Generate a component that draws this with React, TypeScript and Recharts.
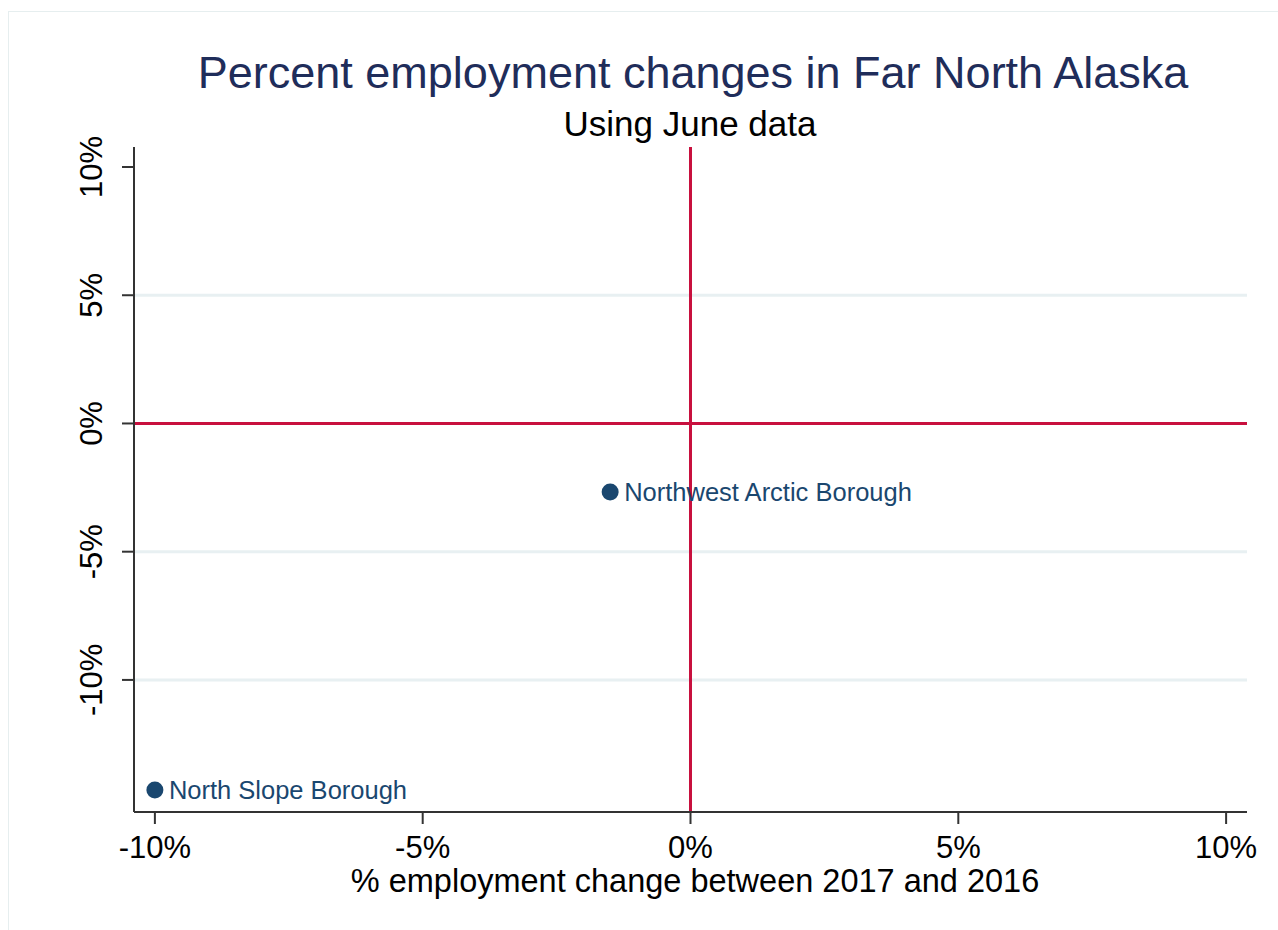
import React from 'react';
import { ScatterChart, Scatter, XAxis, YAxis, ReferenceLine } from 'recharts';

const regions = ['Northwest Arctic Borough', 'North Slope Borough'];
const changeX = [-1.5, -10.0];
const changeY = [-2.67, -14.29];
const xTicks = [-10, -5, 0, 5, 10];
const yTicks = [-10, -5, 0, 5, 10];
const gridValues = [5, -5, -10];

const FONT = '"Liberation Sans", Arial, Helvetica, sans-serif';
const NAVY = '#1a476f';
const RED = '#c8103e';
const AXIS = '#333333';

const points = regions.map((name, i) => ({ name, x: changeX[i], y: changeY[i] }));

const pct = (v: number) => `${v}%`;

// rotated y tick labels, like the stata output
const YTick = (props: any) => {
  const { x, y, payload } = props;
  return (
    <text
      x={x}
      y={y}
      transform={`rotate(-90, ${x}, ${y})`}
      textAnchor="middle"
      fontSize={31}
      fontFamily={FONT}
      fill="#000"
    >
      {pct(payload.value)}
    </text>
  );
};

const Dot = (props: any) => {
  const { cx, cy, payload } = props;
  return (
    <g>
      <circle cx={cx} cy={cy} r={8.5} fill={NAVY} />
      <text x={cx + 14} y={cy + 9} fontSize={25.5} fontFamily={FONT} fill={NAVY}>
        {payload.name}
      </text>
    </g>
  );
};

const App: React.FC = () => {
  return (
    <div
      style={{
        position: 'absolute',
        left: 0,
        top: 0,
        width: 1278,
        height: 930,
        background: '#fff',
        overflow: 'hidden',
      }}
    >
      <div
        style={{
          position: 'absolute',
          left: 8,
          top: 11,
          width: 1400,
          height: 1000,
          borderTop: '1px solid #e6eeef',
          borderLeft: '1px solid #e6eeef',
        }}
      />
      <ScatterChart
        width={1278}
        height={930}
        margin={{ top: 147, right: 31, bottom: 0, left: 0 }}
        style={{ position: 'absolute', left: 0, top: 0 }}
      >
        <XAxis
          type="number"
          dataKey="x"
          domain={[-10.39, 10.39]}
          ticks={xTicks}
          allowDataOverflow
          height={118}
          tickFormatter={pct}
          tickSize={12}
          tickMargin={12}
          axisLine={{ stroke: AXIS, strokeWidth: 2 }}
          tickLine={{ stroke: AXIS, strokeWidth: 2 }}
          tick={{ fontSize: 31, fill: '#000', fontFamily: FONT }}
        />
        <YAxis
          type="number"
          dataKey="y"
          domain={[-15.15, 10.78]}
          ticks={yTicks}
          allowDataOverflow
          width={134}
          tickSize={12}
          tickMargin={20}
          axisLine={{ stroke: AXIS, strokeWidth: 2 }}
          tickLine={{ stroke: AXIS, strokeWidth: 2 }}
          tick={<YTick />}
        />
        {gridValues.map((v) => (
          <ReferenceLine key={v} y={v} stroke="#e8f0f2" strokeWidth={3} />
        ))}
        <ReferenceLine y={0} stroke={RED} strokeWidth={3} />
        <ReferenceLine x={0} stroke={RED} strokeWidth={3} />
        <Scatter data={points} shape={<Dot />} isAnimationActive={false} />
      </ScatterChart>
      <svg
        width={1278}
        height={930}
        style={{ position: 'absolute', left: 0, top: 0, pointerEvents: 'none' }}
      >
        <text x={693} y={88} textAnchor="middle" fontSize={45} fontFamily={FONT} fill="#1f2d5a">
          Percent employment changes in Far North Alaska
        </text>
        <text x={690} y={136} textAnchor="middle" fontSize={35} fontFamily={FONT} fill="#000">
          Using June data
        </text>
        <text x={695} y={892} textAnchor="middle" fontSize={32.5} fontFamily={FONT} fill="#000">
          % employment change between 2017 and 2016
        </text>
      </svg>
    </div>
  );
};

export default App;
